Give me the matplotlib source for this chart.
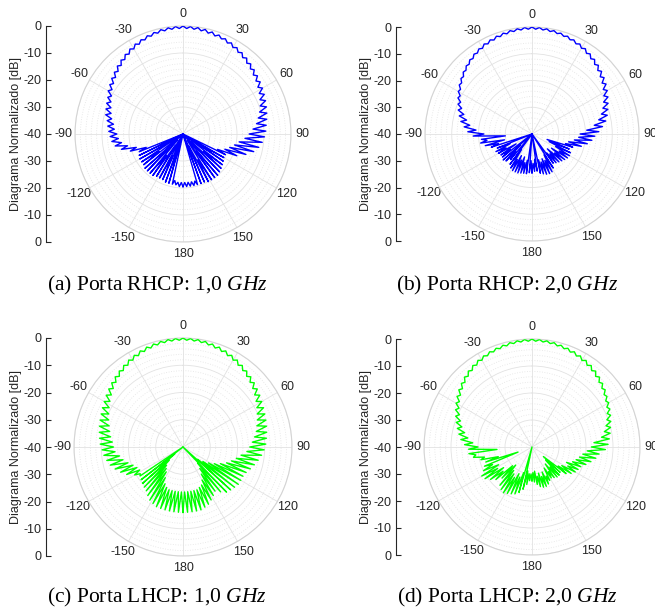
import matplotlib

matplotlib.use("Agg")

import matplotlib.pyplot as plt
import numpy as np

plt.rcParams["font.family"] = ["Liberation Sans", "DejaVu Sans"]
plt.rcParams["mathtext.fontset"] = "custom"
plt.rcParams["mathtext.rm"] = "Liberation Serif"
plt.rcParams["mathtext.it"] = "Liberation Serif:italic"

# measured pattern, 2 deg step; even samples in *_HI, odd samples in *_LO
ANG = np.arange(-180, 180, 2)

A_HI = [-20.5, -20.5, -21, -21, -21, -21, -21.5, -21.5, -21.5, -21,
        -21, -21, -21, -21.5, -21.5, -21.5, -22, -22.5, -19.5, -16.5,
        -14.5, -13.5, -13, -12.5, -12, -11.5, -10.5, -10, -9.5, -9,
        -8, -7.3, -6.5, -5.8, -5, -4.3, -3.6, -2.9, -2.3, -1.8,
        -1.3, -0.9, -0.5, -0.3, -0.1, 0, -0.1, -0.2, -0.4, -0.7,
        -1, -1.4, -1.8, -2.3, -2.8, -3.3, -3.9, -4.5, -5, -5.5,
        -6, -6.5, -7, -7.5, -8, -8.5, -9, -9.3, -9.8, -10.5,
        -11.5, -13, -15.5, -18.5, -22.5, -22.5, -22, -21.5, -21, -20.5,
        -20, -20, -20, -20, -20.5, -20.5, -20.5, -20.5, -20.5, -20.5]
A_LO = [-22, -22, -22.5, -42, -34, -38, -31, -40, -35, -30,
        -37, -33, -41, -29, -36, -40, -44, -25.5, -22, -19,
        -17, -16, -15.5, -14.5, -14, -13, -12.3, -11.6, -10.8, -10,
        -9, -8.2, -7.4, -6.6, -5.8, -5, -4.3, -3.6, -3, -2.4,
        -1.9, -1.5, -1.2, -1, -0.9, -0.9, -1, -1.2, -1.5, -1.8,
        -2, -2.5, -3, -3.5, -4.1, -4.7, -5.3, -6, -6.6, -7.3,
        -8, -8.8, -9.6, -10.5, -11.5, -12.5, -14, -15.5, -17, -19,
        -20.5, -22, -23.5, -26, -42, -33, -38, -30, -36, -41,
        -32, -37, -29, -35, -40, -43, -22, -22, -22, -22]

B_HI = [-25.5, -25.5, -25, -25, -24.8, -24.5, -24.5, -24.5, -25, -26,
        -27.5, -26, -25.5, -26, -26, -25.5, -25, -26, -24, -22,
        -20.5, -21, -18, -16, -14.5, -13, -12, -11, -10.2, -9.2,
        -8.2, -7.2, -6.3, -5.4, -4.6, -3.8, -3.1, -2.5, -1.9, -1.5,
        -1.1, -0.8, -0.5, -0.3, -0.1, 0, -0.1, -0.3, -0.5, -0.8,
        -1.1, -1.5, -1.9, -2.4, -3, -3.6, -4.3, -5, -5.8, -6.6,
        -7.5, -8.4, -9.3, -10.2, -11, -12, -13.5, -15, -16.5, -17.5,
        -19, -21, -24, -25, -24, -23.8, -24, -24.5, -25, -25.5,
        -26, -26.5, -25, -24, -23.8, -24, -24.5, -25, -26, -26]
B_LO = [-30, -40, -30, -29, -31, -29.5, -31, -29, -33, -40,
        -31, -34, -40, -30, -33, -29, -31, -40, -27, -29.5,
        -23, -30, -22, -19, -16.5, -15, -13.5, -12, -10.8, -9.6,
        -8.5, -7.5, -6.6, -5.7, -4.9, -4.2, -3.5, -3, -2.5, -2.1,
        -1.7, -1.4, -1.1, -0.9, -0.8, -0.8, -0.9, -1.1, -1.3, -1.6,
        -2, -2.5, -3, -3.6, -4.3, -5, -5.8, -6.7, -7.6, -8.6,
        -9.6, -10.7, -11.8, -13, -14.5, -16.5, -19.5, -22, -22.5, -24,
        -26, -27, -34, -33, -30, -28, -31, -29, -32, -30,
        -31, -40, -31, -29, -30, -29, -30, -40, -30.5, -29]

C_HI = [-16, -16, -16, -16, -16, -16, -16, -16.5, -17, -18,
        -19, -19.5, -20, -20.5, -21, -19.5, -17, -15.3, -13.8, -12.5,
        -11.6, -10.8, -10.3, -9.6, -9.2, -8.8, -8.4, -8, -7.6, -7.1,
        -6.6, -6, -5.4, -4.8, -4.2, -3.6, -3, -2.4, -1.9, -1.4,
        -1, -0.7, -0.4, -0.2, -0.1, 0, -0.1, -0.2, -0.4, -0.7,
        -1, -1.4, -1.9, -2.4, -3, -3.6, -4.2, -4.8, -5.4, -6,
        -6.6, -7.1, -7.6, -8, -8.4, -8.8, -9.2, -9.6, -10.2, -11,
        -12, -13, -14, -15, -15.5, -15.5, -15.5, -16, -16.5, -17,
        -18.5, -20, -19, -18, -17, -16.5, -16, -16, -16, -16]
C_LO = [-23.5, -23.5, -23.5, -23.5, -23.5, -24, -25, -27, -29, -30,
        -31, -33, -36, -40, -21.5, -22, -21.5, -20.5, -19, -17.5,
        -16.5, -15, -14.5, -14, -13.2, -12.5, -11.8, -11, -10.2, -9.3,
        -8.4, -7.5, -6.6, -5.8, -5.1, -4.4, -3.8, -3.2, -2.7, -2.2,
        -1.8, -1.4, -1.1, -0.9, -0.8, -0.8, -0.9, -1.1, -1.4, -1.8,
        -2.2, -2.7, -3.2, -3.8, -4.4, -5.1, -5.8, -6.6, -7.5, -8.4,
        -9.3, -10.2, -11, -11.8, -12.5, -13.5, -14.5, -15.5, -16.5, -18.5,
        -20, -21.5, -23, -25, -27, -29, -31, -33, -40, -32,
        -30, -28, -26, -24.5, -24, -23.5, -23.5, -23.5, -23.5, -23.5]

D_HI = [-27.5, -27.5, -26, -24, -22.5, -21.5, -21, -20.5, -20, -20.5,
        -21.5, -24, -22, -20.5, -19, -18.5, -20, -21, -22, -20.5,
        -18, -16.5, -16.5, -15, -13.5, -12.5, -11.5, -10.5, -9.5, -8.5,
        -7.5, -6.5, -5.6, -4.8, -4, -3.3, -2.7, -2.2, -1.8, -1.4,
        -1.1, -0.8, -0.5, -0.3, -0.1, 0, -0.1, -0.3, -0.5, -0.8,
        -1.1, -1.4, -1.8, -2.2, -2.7, -3.3, -4, -4.8, -5.6, -6.5,
        -7.2, -7.9, -8.6, -9.3, -10, -10.6, -11.2, -11.8, -12.8, -15,
        -16, -17.5, -19, -20.5, -21, -21.5, -22.5, -24, -26, -25.5,
        -25.5, -26, -26.5, -26, -25, -24.5, -24.5, -25, -26, -27]
D_LO = [-30, -30, -31, -40, -30, -28, -29, -27, -28, -29,
        -31, -30, -26, -27, -25, -26, -24, -34.5, -27, -22,
        -19, -27, -20, -18, -16, -14.5, -13, -11.8, -10.6, -9.4,
        -8.3, -7.3, -6.4, -5.5, -4.7, -4, -3.4, -2.9, -2.4, -2,
        -1.7, -1.4, -1.1, -0.9, -0.8, -0.8, -0.9, -1.1, -1.4, -1.7,
        -2.1, -2.5, -3, -3.5, -4.1, -4.8, -5.5, -6.2, -7, -7.8,
        -8.6, -9.5, -10.5, -11.5, -12.6, -14, -17, -18, -19.5, -21,
        -22, -23, -24, -26, -25, -27, -28, -34.5, -33, -30,
        -32, -29, -31, -28, -30, -28.5, -30, -29, -31, -30.5]

CAPTIONS = [
    r"(a) Porta RHCP: 1,0 $\mathit{GHz}$",
    r"(b) Porta RHCP: 2,0 $\mathit{GHz}$",
    r"(c) Porta LHCP: 1,0 $\mathit{GHz}$",
    r"(d) Porta LHCP: 2,0 $\mathit{GHz}$",
]
THETA_LABELS = ["0", "30", "60", "90", "120", "150", "180",
                "-150", "-120", "-90", "-60", "-30"]
SIDE_LABELS = ["0", "-10", "-20", "-30", "-40", "-30", "-20", "-10", "0"]

RMIN, RMAX = -40, 0
TXT = "#262626"
GRID = "#e2e2e2"
EDGE = "#d4d4d4"
W, H = 655, 612


def pattern(hi, lo):
    v = np.empty(ANG.size)
    v[0::2] = hi
    v[1::2] = lo
    return v


def polar_panel(fig, cx, cy, rad, vals, color):
    rect = [(cx - rad) / W, 1 - (cy + rad) / H, 2 * rad / W, 2 * rad / H]
    ax = fig.add_axes(rect, projection="polar")
    ax.set_theta_zero_location("N")
    ax.set_theta_direction(-1)
    th = np.deg2rad(np.append(ANG, ANG[0]))
    r = np.clip(np.append(vals, vals[0]), RMIN, RMAX)
    ax.plot(th, r, color=color, lw=1.0, zorder=3)
    ax.set_rlim(RMIN, RMAX)
    ax.set_yticks([-30, -20, -10, 0])
    minor = [v for v in range(-38, 0, 2) if v % 10]
    ax.set_yticks(minor, minor=True)
    ax.set_yticklabels([])
    ax.tick_params(axis="y", which="both", length=0)
    ax.set_thetagrids(np.arange(0, 360, 30), THETA_LABELS)
    ax.tick_params(axis="x", labelsize=9, colors=TXT, pad=-2)
    ax.grid(True, which="major", color=GRID, lw=0.6)
    ax.yaxis.grid(True, which="minor", color=GRID, lw=0.6, ls=(0, (1, 2)))
    ax.spines["polar"].set_color(EDGE)
    ax.spines["polar"].set_linewidth(0.8)
    return ax


def side_axis(fig, x, cy, rad):
    ax = fig.add_axes([x / W, 1 - (cy + rad) / H, 0.002, 2 * rad / H])
    ax.set_ylim(-4, 4)
    ax.set_yticks(np.arange(-4, 5))
    ax.set_yticklabels(SIDE_LABELS)
    ax.set_xticks([])
    for s in ("top", "right", "bottom"):
        ax.spines[s].set_visible(False)
    ax.spines["left"].set_color(TXT)
    ax.spines["left"].set_linewidth(0.8)
    ax.patch.set_alpha(0)
    ax.tick_params(axis="y", direction="in", length=3.5, width=0.8,
                   colors=TXT, labelsize=9, pad=3)
    ax.set_ylabel("Diagrama Normalizado [dB]", fontsize=9, color=TXT,
                  labelpad=1)
    return ax


fig = plt.figure(figsize=(W / 100, H / 100), dpi=100)

panels = [
    (pattern(A_HI, A_LO), "#0000ff", 183, 134, 108, 46, 157, 285),
    (pattern(B_HI, B_LO), "#0000ff", 532, 134, 107, 396, 507, 285),
    (pattern(C_HI, C_LO), "#00ff00", 183, 447, 109, 46, 157, 597),
    (pattern(D_HI, D_LO), "#00ff00", 532, 447, 108, 396, 507, 597),
]

for (vals, color, cx, cy, rad, axx, capx, capy), cap in zip(panels, CAPTIONS):
    polar_panel(fig, cx, cy, rad, vals, color)
    side_axis(fig, axx, cy, rad)
    fig.text(capx / W, 1 - capy / H, cap, ha="center", va="center",
             fontsize=15.5, family="Liberation Serif", color="black")

fig.savefig("out.png", dpi=100)
